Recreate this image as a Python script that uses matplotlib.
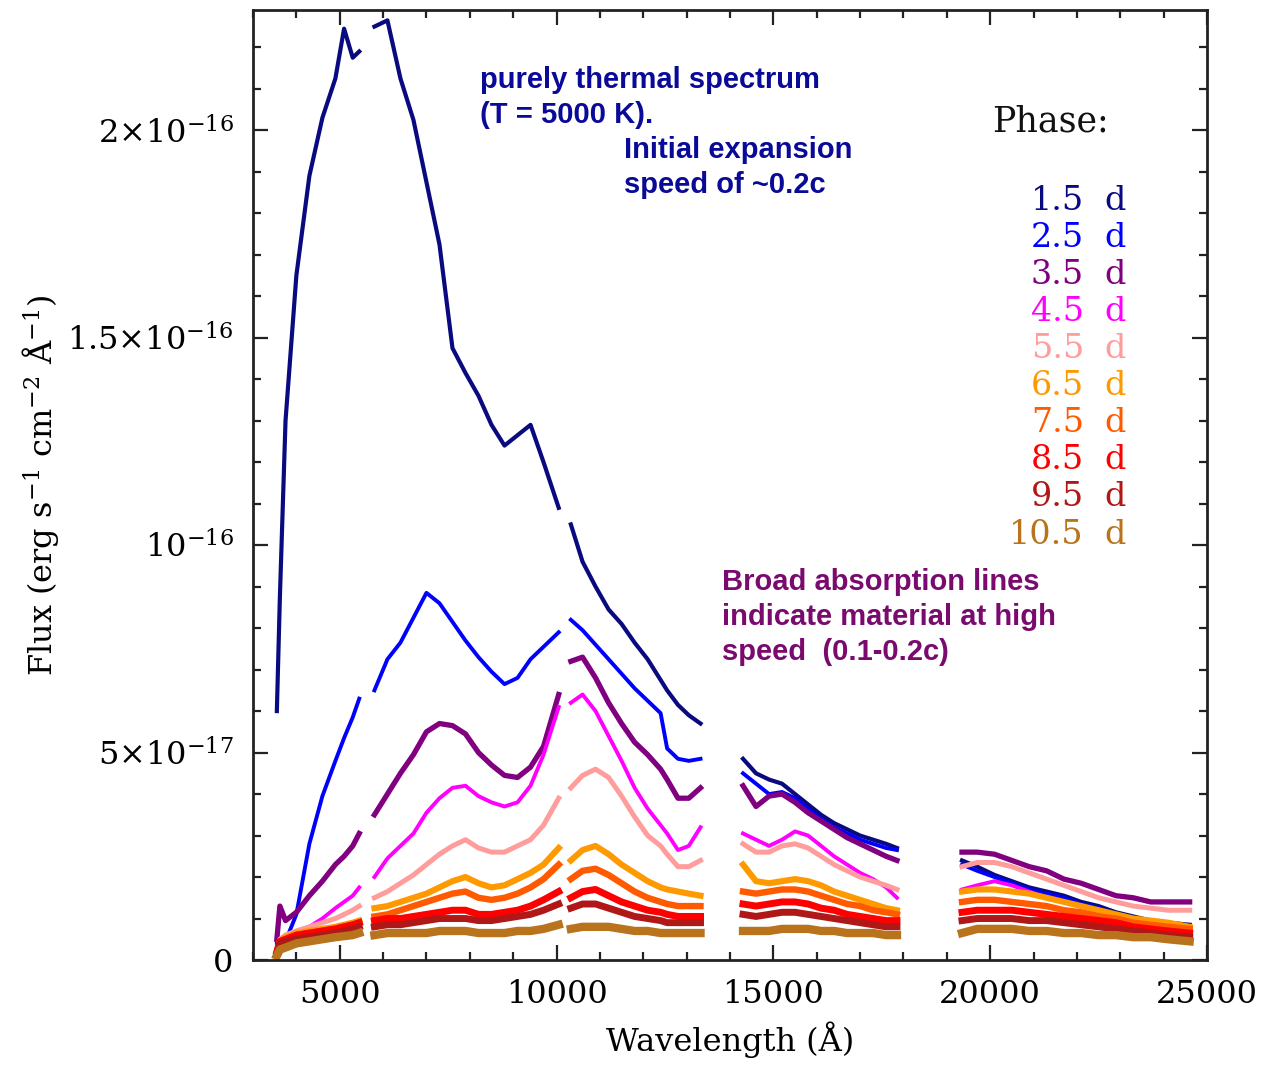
import numpy as np
import matplotlib
matplotlib.use("Agg")
import matplotlib.pyplot as plt
from matplotlib.ticker import MultipleLocator, FixedLocator, FixedFormatter

plt.rcParams['font.family'] = ['DejaVu Serif']
plt.rcParams['mathtext.fontset'] = 'dejavuserif'

N = None
# wavelength grid (Angstrom); None marks gaps between spectral segments
wave = [3550, 3620, 3750, 4000, 4300, 4600, 4900, 5100, 5300, 5450, N,
        5800, 6100, 6400, 6700, 7000, 7300, 7600, 7900, 8200, 8500, 8800, 9100, 9400, 9700, 10050, N,
        10330, 10600, 10900, 11200, 11500, 11800, 12100, 12400, 12550, 12800, 13050, 13320, N,
        14300, 14600, 14900, 15200, 15500, 15800, 16100, 16400, 16700, 17000, 17300, 17600, 17850, N,
        19350, 19700, 20100, 20500, 20900, 21300, 21700, 22100, 22500, 22900, 23300, 23700, 24100, 24600]

phases = ["1.5", "2.5", "3.5", "4.5", "5.5", "6.5", "7.5", "8.5", "9.5", "10.5"]
colors = ["#0a0a80", "#0000ff", "#800080", "#ff00ff", "#ff9c9c",
          "#ff9900", "#ff5a00", "#ff0000", "#b01818", "#b8731c"]

# flux in units of 5e-18 erg/s/cm2/A
FLUX_UNIT = 5e-18
f_1_5 = [12.0, 17.5, 26.0, 33.0, 37.8, 40.6, 42.5, 44.9, 43.5, 43.8, N,
         45.0, 45.3, 42.5, 40.5, 37.5, 34.5, 29.5, 28.3, 27.2, 25.8, 24.8, 25.3, 25.8, 24.0, 21.8, N,
         21.0, 19.2, 18.0, 16.9, 16.2, 15.3, 14.5, 13.5, 13.0, 12.3, 11.8, 11.4, N,
         9.7, 9.0, 8.7, 8.5, 8.0, 7.5, 7.0, 6.6, 6.3, 6.0, 5.8, 5.6, 5.4, N,
         4.8, 4.5, 4.1, 3.8, 3.5, 3.3, 3.1, 2.8, 2.6, 2.3, 2.1, 1.9, 1.8, 1.7]
f_2_5 = [0.8, 0.8, 0.9, 2.2, 5.6, 7.9, 9.6, 10.7, 11.7, 12.6, N,
         13.0, 14.5, 15.3, 16.5, 17.7, 17.2, 16.3, 15.4, 14.6, 13.9, 13.3, 13.6, 14.5, 15.1, 15.8, N,
         16.4, 15.9, 15.2, 14.5, 13.8, 13.1, 12.5, 11.9, 10.2, 9.7, 9.6, 9.7, N,
         9.0, 8.5, 8.0, 8.1, 7.8, 7.3, 6.8, 6.4, 6.1, 5.8, 5.6, 5.4, 5.3, N,
         4.6, 4.3, 4.0, 3.7, 3.4, 3.2, 3.0, 2.7, 2.5, 2.2, 2.0, 1.8, 1.7, 1.6]
f_3_5 = [1.0, 2.6, 1.9, 2.3, 3.1, 3.8, 4.6, 5.0, 5.5, 6.1, N,
         7.0, 8.0, 9.0, 9.9, 11.0, 11.4, 11.3, 10.9, 10.0, 9.4, 8.9, 8.8, 9.3, 10.3, 12.8, N,
         14.4, 14.6, 13.6, 12.4, 11.4, 10.5, 9.9, 9.2, 8.7, 7.8, 7.8, 8.3, N,
         8.4, 7.4, 7.9, 8.0, 7.6, 7.1, 6.7, 6.3, 5.9, 5.6, 5.3, 5.0, 4.8, N,
         5.2, 5.2, 5.1, 4.8, 4.5, 4.3, 3.9, 3.7, 3.4, 3.1, 3.0, 2.8, 2.8, 2.8]
f_4_5 = [0.5, 1.0, 1.2, 1.4, 1.6, 2.0, 2.5, 2.8, 3.1, 3.5, N,
         4.0, 4.9, 5.5, 6.1, 7.1, 7.8, 8.3, 8.4, 7.9, 7.6, 7.4, 7.6, 8.4, 9.9, 12.2, N,
         12.4, 12.8, 12.0, 10.8, 9.6, 8.3, 7.3, 6.5, 6.1, 5.3, 5.5, 6.4, N,
         6.1, 5.8, 5.5, 5.8, 6.2, 6.0, 5.5, 5.0, 4.6, 4.2, 3.9, 3.5, 3.0, N,
         3.4, 3.6, 3.8, 3.6, 3.3, 3.0, 2.8, 2.6, 2.3, 2.1, 1.9, 1.7, 1.6, 1.5]
f_5_5 = [0.5, 1.0, 1.2, 1.4, 1.6, 1.8, 2.0, 2.2, 2.4, 2.6, N,
         3.0, 3.3, 3.7, 4.1, 4.6, 5.1, 5.5, 5.8, 5.4, 5.2, 5.2, 5.5, 5.8, 6.5, 7.8, N,
         8.3, 8.9, 9.2, 8.8, 7.9, 6.9, 6.0, 5.5, 5.1, 4.5, 4.5, 4.8, N,
         5.6, 5.2, 5.2, 5.5, 5.6, 5.4, 5.0, 4.6, 4.3, 4.0, 3.8, 3.6, 3.4, N,
         4.5, 4.7, 4.7, 4.5, 4.2, 3.9, 3.6, 3.3, 3.0, 2.8, 2.6, 2.5, 2.4, 2.4]
f_6_5 = [0.4, 0.9, 1.1, 1.3, 1.4, 1.5, 1.6, 1.7, 1.8, 1.9, N,
         2.5, 2.6, 2.8, 3.0, 3.2, 3.5, 3.8, 4.0, 3.7, 3.5, 3.6, 3.9, 4.2, 4.6, 5.4, N,
         4.8, 5.3, 5.5, 5.1, 4.6, 4.2, 3.8, 3.5, 3.4, 3.3, 3.2, 3.1, N,
         4.6, 3.8, 3.7, 3.8, 3.9, 3.8, 3.6, 3.3, 3.1, 2.9, 2.7, 2.5, 2.4, N,
         3.3, 3.4, 3.4, 3.3, 3.2, 3.0, 2.8, 2.6, 2.4, 2.2, 2.0, 1.9, 1.8, 1.6]
f_7_5 = [0.4, 0.9, 1.0, 1.2, 1.3, 1.4, 1.5, 1.6, 1.7, 1.8, N,
         2.1, 2.2, 2.4, 2.6, 2.8, 3.0, 3.2, 3.3, 3.0, 2.9, 3.0, 3.2, 3.5, 3.9, 4.6, N,
         3.9, 4.3, 4.4, 4.1, 3.7, 3.3, 3.0, 2.8, 2.7, 2.6, 2.6, 2.6, N,
         3.3, 3.2, 3.3, 3.4, 3.4, 3.3, 3.1, 2.9, 2.7, 2.6, 2.4, 2.3, 2.2, N,
         2.8, 2.9, 2.9, 2.8, 2.7, 2.6, 2.4, 2.3, 2.1, 2.0, 1.8, 1.7, 1.6, 1.5]
f_8_5 = [0.4, 0.9, 1.0, 1.2, 1.3, 1.4, 1.5, 1.6, 1.7, 1.8, N,
         1.9, 2.0, 2.0, 2.1, 2.2, 2.3, 2.4, 2.4, 2.2, 2.2, 2.3, 2.4, 2.6, 2.9, 3.3, N,
         3.0, 3.3, 3.4, 3.1, 2.8, 2.6, 2.4, 2.3, 2.2, 2.1, 2.1, 2.1, N,
         2.7, 2.6, 2.7, 2.8, 2.8, 2.7, 2.5, 2.4, 2.2, 2.1, 2.0, 1.9, 1.9, N,
         2.3, 2.4, 2.4, 2.4, 2.3, 2.2, 2.1, 2.0, 1.9, 1.8, 1.6, 1.5, 1.4, 1.3]
f_9_5 = [0.3, 0.8, 0.9, 1.0, 1.1, 1.2, 1.3, 1.4, 1.5, 1.6, N,
         1.6, 1.7, 1.7, 1.8, 1.9, 2.0, 2.0, 2.0, 1.9, 1.9, 2.0, 2.1, 2.2, 2.4, 2.7, N,
         2.5, 2.7, 2.7, 2.5, 2.3, 2.1, 2.0, 1.9, 1.8, 1.8, 1.8, 1.8, N,
         2.2, 2.1, 2.2, 2.3, 2.3, 2.2, 2.1, 2.0, 1.9, 1.8, 1.7, 1.6, 1.6, N,
         1.9, 2.0, 2.0, 2.0, 1.9, 1.9, 1.8, 1.7, 1.6, 1.5, 1.4, 1.3, 1.2, 1.1]
f_10_5 = [0.2, 0.5, 0.6, 0.8, 0.9, 1.0, 1.1, 1.15, 1.2, 1.3, N,
          1.2, 1.3, 1.3, 1.3, 1.3, 1.4, 1.4, 1.4, 1.3, 1.3, 1.3, 1.4, 1.4, 1.5, 1.7, N,
          1.5, 1.6, 1.6, 1.6, 1.5, 1.4, 1.4, 1.3, 1.3, 1.3, 1.3, 1.3, N,
          1.4, 1.4, 1.4, 1.5, 1.5, 1.5, 1.4, 1.4, 1.3, 1.3, 1.3, 1.2, 1.2, N,
          1.3, 1.5, 1.5, 1.5, 1.4, 1.4, 1.3, 1.3, 1.2, 1.2, 1.1, 1.1, 1.0, 0.9]

fluxes = [f_1_5, f_2_5, f_3_5, f_4_5, f_5_5, f_6_5, f_7_5, f_8_5, f_9_5, f_10_5]
linewidths = [3.0, 2.8, 3.8, 2.8, 3.6, 4.4, 4.6, 5.0, 5.0, 6.0]

ytick_vals = [0, 5e-17, 1e-16, 1.5e-16, 2e-16]
ytick_labels = ["0", r"5$\times$10$^{-17}$", r"10$^{-16}$", r"1.5$\times$10$^{-16}$", r"2$\times$10$^{-16}$"]
xtick_vals = [5000, 10000, 15000, 20000, 25000]

W, H = 1280, 1066
fig = plt.figure(figsize=(W / 100, H / 100), dpi=100)
ax = fig.add_axes([253 / W, 1 - 960 / H, (1207 - 253) / W, (960 - 10) / H])

x = np.array([np.nan if v is None else v for v in wave], dtype=float)
for f, c, lw in zip(fluxes, colors, linewidths):
    y = np.array([np.nan if v is None else v * FLUX_UNIT for v in f], dtype=float)
    ax.plot(x, y, color=c, lw=lw, solid_joinstyle='round')

ax.set_xlim(3000, 25000)
ax.set_ylim(0, 2.29e-16)
ax.xaxis.set_major_locator(FixedLocator(xtick_vals))
ax.xaxis.set_minor_locator(MultipleLocator(1000))
ax.yaxis.set_major_locator(FixedLocator(ytick_vals))
ax.yaxis.set_major_formatter(FixedFormatter(ytick_labels))
ax.yaxis.set_minor_locator(MultipleLocator(1e-17))
ax.tick_params(which='both', direction='in', top=True, right=True, width=1.6, color='#222222')
ax.tick_params(which='major', length=11, labelsize=23, pad=14)
ax.tick_params(which='minor', length=6)
for s in ax.spines.values():
    s.set_linewidth(2.0)
    s.set_color('#222222')

ax.set_xlabel("Wavelength (Å)", fontsize=23, labelpad=8)
ax.set_ylabel(r"Flux (erg s$^{-1}$ cm$^{-2}$ Å$^{-1}$)", fontsize=23, labelpad=4)

def ftext(px, py, s, **kw):
    fig.text(px / W, 1 - py / H, s, **kw)

sans = dict(family=['Liberation Sans', 'DejaVu Sans'], fontweight='bold', fontsize=21, va='center')
ftext(480, 80, "purely thermal spectrum", color='#0a0a99', **sans)
ftext(480, 115, "(T = 5000 K).", color='#0a0a99', **sans)
ftext(624, 150, "Initial expansion", color='#0a0a99', **sans)
ftext(624, 185, "speed of ~0.2c", color='#0a0a99', **sans)
ftext(722, 582, "Broad absorption lines", color='#7a0a6e', **sans)
ftext(722, 617, "indicate material at high", color='#7a0a6e', **sans)
ftext(722, 652, "speed  (0.1-0.2c)", color='#7a0a6e', **sans)

ftext(992, 122, "Phase:", fontsize=25, color='#111111', va='center', ha='left')
ys = [201, 238, 275, 312, 349, 386, 423, 460, 497, 535]
for p, c, yy in zip(phases, colors, ys):
    ftext(1084, yy, p, fontsize=24, color=c, va='center', ha='right')
    ftext(1104, yy, "d", fontsize=24, color=c, va='center', ha='left')

fig.savefig("out.png", dpi=100)
